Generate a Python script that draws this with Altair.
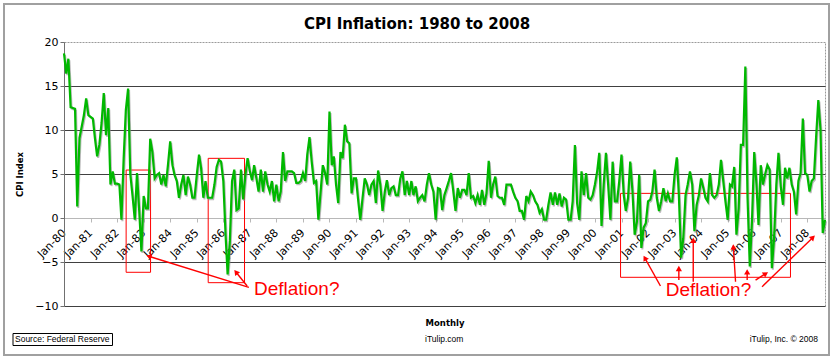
import math
import altair as alt
import pandas as pd

# ---------------- data ----------------
START = "1980-01-01"
END = "2008-09-01"
cpi = [
    18.7, 16.4, 18.1, 12.6, 12.5, 12.4, 1.3, 9.1, 10.4, 11.7, 13.6, 11.7,
    11.5, 11.3, 9.1, 7.0, 8.3, 10.8, 14.2, 9.4, 12.5, 3.8, 5.3, 3.9,
    3.9, 3.8, -0.2, 6.8, 12.3, 14.7, 5.0, 2.5, -0.2, 5.1, 0.8, -3.8,
    2.5, 1.1, 1.1, 9.0, 7.5, 4.5, 4.9, 5.1, 3.8, 4.9, 3.6, 6.0,
    8.7, 6.0, 4.9, 4.2, 2.3, 3.8, 4.9, 2.6, 4.7, 3.8, 2.3, 2.3,
    4.9, 7.2, 5.7, 2.3, 4.2, 2.3, 2.3, 2.3, 3.8, 5.8, 6.6, 6.4,
    4.2, -1.9, -6.4, -2.6, 4.2, 5.5, 0.9, 1.1, 5.5, 2.1, 4.9, 6.8,
    5.3, 4.3, 6.0, 4.5, 3.0, 5.5, 3.0, 5.3, 3.8, 3.0, 4.2, 1.9,
    3.8, 1.9, 3.0, 7.5, 4.2, 5.3, 5.3, 5.3, 5.1, 4.0, 4.0, 4.2,
    5.1, 4.2, 7.2, 9.2, 6.4, 4.0, 4.2, -0.2, 3.0, 6.0, 5.1, 3.8,
    12.1, 6.0, 7.0, 3.8, 1.7, 7.5, 6.8, 10.6, 8.7, 8.5, 2.8, 4.5,
    4.5, 1.9, -0.2, 2.3, 4.5, 3.8, 2.6, 3.8, 4.2, 1.7, 5.4, 3.8,
    0.8, 3.0, 4.3, 2.6, 3.4, 3.6, 2.6, 2.6, 4.5, 5.3, 2.6, 4.2,
    2.6, 4.2, 2.6, 3.6, 1.9, 2.3, 2.6, 1.9, 3.8, 5.1, 3.8, 3.0,
    -0.2, 3.4, 3.3, 0.9, 2.6, 3.4, 4.2, 5.1, 3.0, 0.8, 3.4, 2.3,
    3.2, 3.2, 2.6, 5.1, 2.3, 2.5, 1.7, 2.6, 1.5, 3.2, 1.5, 2.8,
    6.5, 2.3, 3.8, 4.7, 2.5, 2.3, 2.3, 1.5, 3.8, 3.8, 3.8, 3.0,
    2.3, 1.9, 0.8, 0.8, -0.2, 2.5, 1.9, 3.0, 2.6, 1.9, 1.5, 0.6,
    1.0, -0.2, -0.2, 1.5, 2.9, 1.5, 2.9, 1.5, 2.8, 1.3, 2.3, 2.1,
    -0.2, -0.2, 1.9, 8.3, 1.7, -0.2, 5.3, 2.6, 5.1, 2.3, 2.1, 2.6,
    3.8, 5.3, 7.4, -0.9, 3.8, 7.4, 3.8, -0.2, 6.4, 1.9, 1.9, 4.2,
    7.2, 2.6, 0.8, 2.3, 6.4, 3.0, -1.9, -0.4, 4.9, -3.4, -1.1, -0.6,
    1.9, 2.1, 3.0, 5.5, 2.3, 0.8, 1.9, 3.4, 1.9, 2.8, 1.9, 1.9,
    4.9, 6.9, 2.6, -4.5, -2.3, 2.6, 3.8, 5.3, 3.8, -1.5, 1.5, 2.6,
    4.5, 3.4, 2.3, 1.9, 5.1, 2.6, 2.3, 2.6, 3.8, 6.6, 4.2, 1.9,
    -0.2, 3.8, 3.6, 5.8, -1.9, 1.1, 8.3, 8.3, 17.2, 2.3, -5.5, -0.4,
    7.5, 3.8, -0.8, 6.0, 3.8, 5.0, 6.0, 5.5, -5.7, -2.3, 3.8, 7.4,
    3.6, 1.5, 5.7, 4.5, 5.7, 3.8, 3.0, 0.4, 4.2, 5.1, 11.3, 5.1,
    4.9, 3.0, 4.2, 4.5, 9.1, 13.4, 10.0, -1.7, -0.2,
]
tick_years = list(range(1980, 2009))
y_ticks = [-10, -5, 0, 5, 10, 15, 20]
y_min, y_max = -10, 20

# annotation boxes (data space)
box_start = ["1982-05-05", "1985-06-07", "2000-12-19"]
box_end = ["1983-04-06", "1986-10-20", "2007-05-15"]
box_top = [5.45, 6.78, 2.8]
box_bottom = [-6.17, -7.35, -6.74]

# "Deflation?" labels (data space)
label_dates = ["1987-02-26", "2002-09-01"]
label_values = [-8.75, -8.86]
label_texts = ["Deflation?", "Deflation?"]

# arrows (data space)
arrow_from_date = ["1986-12-19", "1986-11-25", "2002-06-21", "2003-03-01", "2003-09-15",
                   "2005-04-19", "2005-09-26", "2006-01-20", "2006-04-19"]
arrow_from_val = [-7.88, -7.73, -7.73, -7.05, -7.24, -7.24, -7.05, -7.05, -7.81]
arrow_to_date = ["1983-01-27", "1986-05-25", "2001-10-26", "2003-03-01", "2003-09-15",
                 "2005-03-17", "2005-09-26", "2006-07-20", "2008-04-23"]
arrow_to_val = [-4.24, -5.83, -4.2, -5.34, -2.13, -2.88, -5.72, -6.1, -1.93]

# ---------------- layout ----------------
W, H = 761, 264
PAD_L, PAD_T = 64, 42
PAD_R = 835 - PAD_L - W
PAD_B = 360 - PAD_T - H

months = pd.date_range(START, periods=len(cpi), freq="MS")
df = pd.DataFrame({"date": months.strftime("%Y-%m-%d"), "cpi": cpi})

t0, t1 = pd.Timestamp(START), pd.Timestamp(END)


def px(d):
    return (pd.Timestamp(d) - t0) / (t1 - t0) * W


def py(v):
    return (y_max - v) / (y_max - y_min) * H


def to_date(x):
    return (t0 + (t1 - t0) * (x / W)).strftime("%Y-%m-%dT%H:%M:%S")


def to_val(y):
    return y_max - y / H * (y_max - y_min)


rows, heads = [], []
for fd, fv, td, tv in zip(arrow_from_date, arrow_from_val, arrow_to_date, arrow_to_val):
    x0, y0, x1, y1 = px(fd), py(fv), px(td), py(tv)
    dx, dy = x1 - x0, y1 - y0
    L = math.hypot(dx, dy)
    ux, uy = dx / L, dy / L
    hx, hy = x1 - ux * 3.5, y1 - uy * 3.5
    ex, ey = x1 - ux * 5, y1 - uy * 5
    ang = math.degrees(math.atan2(dx, -dy)) % 360
    rows.append({"d1": pd.Timestamp(fd).strftime("%Y-%m-%dT%H:%M:%S"), "v1": fv,
                 "d2": to_date(ex), "v2": to_val(ey)})
    heads.append({"d": to_date(hx), "v": to_val(hy), "angle": ang})

arrows_df = pd.DataFrame(rows)
heads_df = pd.DataFrame(heads)
boxes_df = pd.DataFrame({"s": box_start, "e": box_end, "top": box_top, "bottom": box_bottom})
labels_df = pd.DataFrame({"d": label_dates, "v": label_values, "t": label_texts})

xscale = alt.Scale(type="utc", domain=[alt.DateTime(year=1980, month=1, date=1, utc=True),
                                       alt.DateTime(year=2008, month=9, date=1, utc=True)], nice=False)
yscale = alt.Scale(domain=[y_min, y_max], nice=False, zero=False)

zero_offset = -H * (0 - y_min) / (y_max - y_min)

xaxis = alt.Axis(
    values=[alt.DateTime(year=y, month=1, date=1, utc=True) for y in tick_years],
    labelExpr="utcFormat(datum.value, '%b-%y')", labelAngle=-45, labelAlign="right", labelBaseline="middle",
    labelPadding=9, labelFontSize=11, labelFont="DejaVu Sans", labelColor="#000000",
    labelOverlap=False, labelFlush=False, labelBound=False,
    offset=zero_offset, domainColor="#b8b8b8", tickColor="#b8b8b8", tickSize=4, grid=False,
    title="Monthly", titleFont="DejaVu Sans", titleFontSize=8.5, titleFontWeight="bold",
    titleX=W / 2, titleY=325 - PAD_T - (H + zero_offset), titleBaseline="alphabetic", titleAlign="center",
    titleColor="#000000",
)
yaxis = alt.Axis(
    values=y_ticks, labelFontSize=11, labelFont="DejaVu Sans", labelColor="#000000", labelPadding=2,
    tickSize=4, tickColor="#707070", domainColor="#707070",
    grid=True, gridColor={"condition": {"test": "datum.value === 0 || datum.value === 20", "value": "transparent"},
                          "value": "#404040"},
    gridWidth=1,
    title="CPI Index", titleFont="DejaVu Sans", titleFontSize=8.5, titleFontWeight="bold",
    titleAngle=270, titleX=19.5 - PAD_L, titleY=H / 2, titleAlign="center", titleBaseline="middle",
    titleColor="#000000",
)


def X(f):
    return alt.X(f, type="temporal", scale=xscale, axis=xaxis)


def Y(f):
    return alt.Y(f, type="quantitative", scale=yscale, axis=yaxis)


base = alt.Chart(df)
shadow = base.mark_line(color="#8a8a8a", strokeWidth=2, xOffset=1, yOffset=1.5, opacity=0.6).encode(
    x=X("date"), y=Y("cpi"))
line = base.mark_line(color="#00b800", strokeWidth=2.2).encode(x=X("date"), y=Y("cpi"))

boxes = alt.Chart(boxes_df).mark_rect(fill="white", fillOpacity=0, stroke="#ff0000", strokeWidth=1).encode(
    x=X("s"), x2=alt.X2("e"), y=Y("top"), y2=alt.Y2("bottom"))

arrow_lines = alt.Chart(arrows_df).mark_rule(color="#ff0000", strokeWidth=1.4).encode(
    x=X("d1"), x2=alt.X2("d2"), y=Y("v1"), y2=alt.Y2("v2"))
arrow_heads = alt.Chart(heads_df).mark_point(shape="triangle-up", filled=True, color="#ff0000",
                                             size=38, opacity=1).encode(
    x=X("d"), y=Y("v"), angle=alt.Angle("angle:Q", scale=None))

defl = alt.Chart(labels_df).mark_text(align="left", baseline="alphabetic", color="#ff0000",
                                      font="Liberation Sans", fontSize=19).encode(
    x=X("d"), y=Y("v"), text="t:N")


def deco_text(txt, x, y, **kw):
    return alt.Chart(alt.Data(values=[{}])).mark_text(text=txt, **kw).encode(
        x=alt.value(x), y=alt.value(y))


def deco_rect(x, x2, y, y2, **kw):
    return alt.Chart(alt.Data(values=[{}])).mark_rect(fill="white", fillOpacity=0, **kw).encode(
        x=alt.value(x), x2=alt.value(x2), y=alt.value(y), y2=alt.value(y2))


title = deco_text("CPI Inflation: 1980 to 2008", 417 - PAD_L, 29 - PAD_T, font="DejaVu Sans",
                  fontSize=15, fontWeight="bold", align="center", baseline="alphabetic", color="#000000")
src = deco_text("Source:  Federal Reserve", 15 - PAD_L, 342 - PAD_T, font="Liberation Sans",
                fontSize=8.5, align="left", baseline="alphabetic", color="#000000")
src_box = deco_rect(13 - PAD_L, 112.5 - PAD_L, 333.5 - PAD_T, 345.5 - PAD_T, stroke="#000000", strokeWidth=1)
site = deco_text("iTulip.com", 425 - PAD_L, 342 - PAD_T, font="Liberation Sans", fontSize=8.5,
                 align="left", baseline="alphabetic", color="#000000")
copy = deco_text("iTulip, Inc. \u00a9 2008", 818 - PAD_L, 342 - PAD_T, font="Liberation Sans",
                 fontSize=8.5, align="right", baseline="alphabetic", color="#000000")
border = deco_rect(4 - PAD_L, 829 - PAD_L, 4 - PAD_T, 355 - PAD_T, stroke="#a0a0a0", strokeWidth=2)

chart = alt.layer(
    boxes, shadow, line, arrow_lines, arrow_heads, defl,
    title, src_box, src, site, copy, border,
).properties(
    width=W, height=H,
    autosize=alt.AutoSizeParams(type="none"),
    padding={"left": PAD_L, "top": PAD_T, "right": PAD_R, "bottom": PAD_B},
    background="white",
).configure_view(
    stroke="#9a9a9a", strokeWidth=1, strokeDash=[2, 1]
)

chart.save("out.html", embed_options={"renderer": "svg", "actions": False})
